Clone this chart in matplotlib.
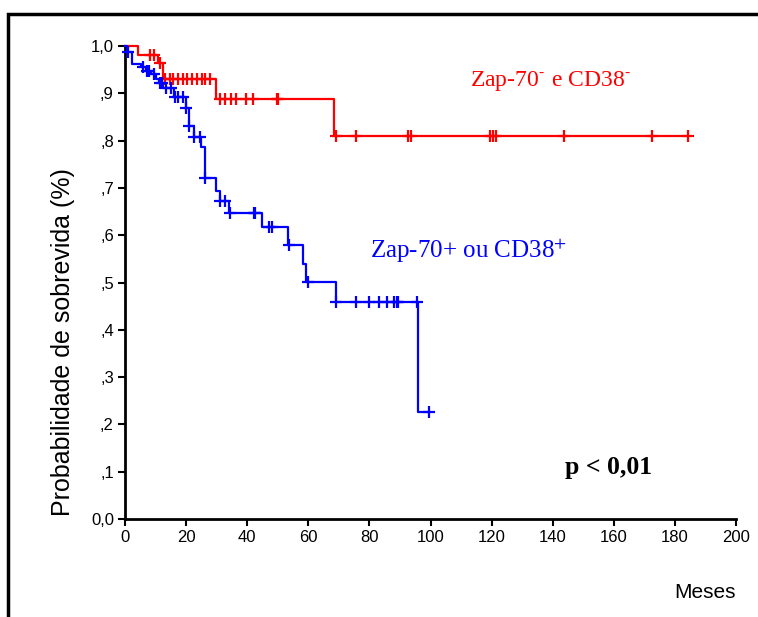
import numpy as np
import matplotlib.pyplot as plt
import matplotlib.patches as patches

# Zap-70- e CD38- (red)
red_times = [0, 4.3, 10.7, 12.5, 29.8, 68.5]
red_surv = [1.0, 0.982, 0.964, 0.931, 0.889, 0.810]
red_end = 184.4
red_cens = [8.2, 9.6, 11.5, 13.1, 14.7, 15.8, 17.4, 19.1, 20.2, 21.8, 23.5, 25.1, 26.2, 27.8,
            31.1, 32.7, 34.6, 36.3, 39.6, 42.0, 49.6, 50.2,
            69.1, 75.6, 92.7, 93.6, 119.5, 120.3, 121.4, 143.8, 172.6, 184.4]

# Zap-70+ ou CD38+ (blue)
blue_times = [0, 0.5, 2.2, 5.4, 7.0, 8.5, 10.0, 11.0, 12.5, 16.0, 20.0, 21.0, 22.5, 25.0,
              26.2, 29.8, 31.1, 34.2, 44.7, 53.5, 58.4, 59.2, 69.1, 96.0]
blue_surv = [1.0, 0.987, 0.962, 0.955, 0.948, 0.940, 0.930, 0.922, 0.912, 0.893, 0.870,
             0.830, 0.807, 0.786, 0.720, 0.694, 0.673, 0.648, 0.618, 0.580, 0.539, 0.502,
             0.458, 0.227]
blue_end = 99.5
blue_cens = [1.0, 5.8, 7.3, 8.0, 9.5, 11.3, 12.0, 13.5, 15.0, 16.5, 17.5, 19.0, 20.1, 21.0,
             22.6, 24.5, 26.3, 31.1, 32.7, 34.4, 42.3, 42.7, 47.1, 48.2, 53.8, 59.8,
             69.1, 75.6, 80.0, 83.3, 85.7, 88.1, 88.9, 89.4, 95.5, 99.5]

xticks = [0, 20, 40, 60, 80, 100, 120, 140, 160, 180, 200]
yticks = [0.0, 0.1, 0.2, 0.3, 0.4, 0.5, 0.6, 0.7, 0.8, 0.9, 1.0]
ytick_labels = ['0,0', ',1', ',2', ',3', ',4', ',5', ',6', ',7', ',8', ',9', '1,0']

plt.rcParams['font.family'] = 'Liberation Sans'
plt.rcParams['mathtext.fontset'] = 'stix'

fig = plt.figure(figsize=(7.58, 6.17), dpi=100)
ax = fig.add_axes([0.1649, 0.1588, 0.8061, 0.7666])


def km_curve(times, surv, end, cens, color):
    t = list(times) + [end]
    s = list(surv) + [surv[-1]]
    ax.step(t, s, where='post', color=color, lw=1.6, clip_on=False, zorder=3)
    idx = np.searchsorted(times, cens, side='right') - 1
    cy = np.array(surv)[idx]
    ax.plot(cens, cy, linestyle='none', marker='+', markersize=8, mew=1.6,
            color=color, clip_on=False, zorder=4)


km_curve(red_times, red_surv, red_end, red_cens, '#ff0000')
km_curve(blue_times, blue_surv, blue_end, blue_cens, '#0000ff')

ax.set_xlim(0, 200)
ax.set_ylim(0, 1.0)
ax.set_xticks(xticks)
ax.set_yticks(yticks)
ax.set_yticklabels(ytick_labels)
ax.tick_params(direction='out', length=5, width=1.5, labelsize=12, pad=3)
for side in ['top', 'right']:
    ax.spines[side].set_visible(False)
for side in ['left', 'bottom']:
    ax.spines[side].set_linewidth(2)

ax.set_ylabel('Probabilidade de sobrevida (%)', fontsize=18)
ax.yaxis.set_label_coords(-0.082, 0.375)
fig.text(0.970, 0.04, 'Meses', fontsize=15, ha='right', va='center')

ax.text(113, 0.926, r'Zap-70$^{\text{-}}$ e CD38$^{\text{-}}$', color='#ff0000', fontsize=17,
        family='Liberation Serif', va='center')
ax.text(80.2, 0.567, r'Zap-70+ ou CD38$^{+}$', color='#0000ff', fontsize=18,
        family='Liberation Serif', va='center')
ax.text(144, 0.108, 'p < 0,01', color='black', fontsize=18.5, fontweight='bold',
        family='Liberation Serif', va='center')

frame = patches.Rectangle((0.0106, -0.1), 1.2, 1.0773, transform=fig.transFigure,
                          fill=False, edgecolor='black', lw=2.5, clip_on=False)
fig.patches.append(frame)

fig.savefig('out.png', dpi=100)
